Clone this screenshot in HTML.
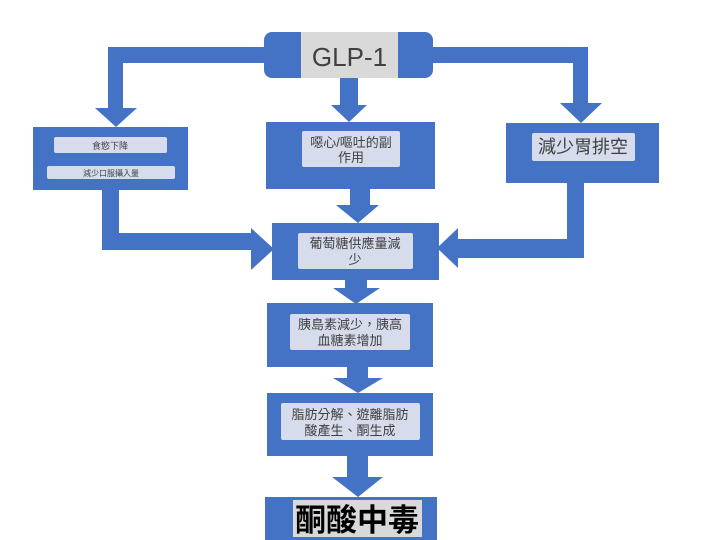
<!DOCTYPE html>
<html><head><meta charset="utf-8"><style>
html,body{margin:0;padding:0;background:#fff;}
svg{display:block;}
text{font-family:"Liberation Sans","Noto Sans CJK TC",sans-serif;fill:#404040;}
</style></head><body>
<svg width="720" height="540" viewBox="0 0 720 540" xmlns="http://www.w3.org/2000/svg">
<g fill="#4472C4">
<!-- GLP-1 box -->
<rect x="264" y="32" width="169" height="46" rx="8"/>
<!-- left connector -->
<rect x="108" y="47" width="160" height="16"/>
<rect x="108" y="47" width="15" height="63"/>
<polygon points="95,108 137,108 116,127"/>
<!-- right connector -->
<rect x="430" y="47" width="158" height="16"/>
<rect x="573" y="47" width="15" height="58"/>
<polygon points="560,103 602,103 581,123"/>
<!-- middle connector -->
<rect x="340" y="78" width="18" height="29"/>
<polygon points="331,105 367,105 349,122"/>
<!-- boxes -->
<rect x="33" y="127" width="155" height="63"/>
<rect x="266" y="122" width="169" height="67"/>
<rect x="506" y="123" width="153" height="60"/>
<!-- middle to glucose -->
<rect x="350" y="189" width="20" height="18"/>
<polygon points="336,205 379,205 358,223"/>
<!-- left to glucose -->
<rect x="102" y="190" width="17" height="60"/>
<rect x="102" y="233" width="152" height="17"/>
<polygon points="251,228 274,249 251,270"/>
<!-- right to glucose -->
<rect x="567" y="183" width="17" height="75"/>
<rect x="455" y="239" width="129" height="19"/>
<polygon points="458,228 437,248 458,268"/>
<!-- glucose box -->
<rect x="272" y="223" width="167" height="57"/>
<!-- arrow -->
<rect x="345" y="280" width="22" height="12"/>
<polygon points="333,288 380,288 356,304"/>
<rect x="267" y="303" width="166" height="64"/>
<rect x="347" y="367" width="21" height="13"/>
<polygon points="333,378 383,378 358,393"/>
<rect x="267" y="393" width="166" height="63"/>
<rect x="347" y="456" width="21" height="22"/>
<polygon points="332,477 383,477 358,497"/>
<rect x="265" y="497" width="172" height="43"/>
</g>
<!-- inner boxes -->
<rect x="301" y="32" width="97" height="46" fill="#d9d9d9"/>
<text x="349.5" y="66" font-size="26" text-anchor="middle">GLP-1</text>
<rect x="54" y="137" width="113" height="16" rx="2" fill="#d6dcec"/>
<text x="110" y="149" font-size="9" text-anchor="middle">食慾下降</text>
<rect x="47" y="166" width="128" height="13" rx="2" fill="#d6dcec"/>
<text x="111" y="176" font-size="8" text-anchor="middle">減少口服攝入量</text>
<rect x="302" y="131" width="98" height="36" rx="2" fill="#d6dcec"/>
<text x="351" y="147" font-size="13" text-anchor="middle">噁心/嘔吐的副</text>
<text x="351" y="162" font-size="13" text-anchor="middle">作用</text>
<rect x="532" y="133" width="103" height="28" rx="2" fill="#d6dcec"/>
<text x="583" y="153" font-size="18" text-anchor="middle">減少胃排空</text>
<rect x="298" y="233" width="115" height="36" rx="2" fill="#d6dcec"/>
<text x="355" y="248" font-size="13" text-anchor="middle">葡萄糖供應量減</text>
<text x="355" y="264" font-size="13" text-anchor="middle">少</text>
<rect x="290" y="314" width="120" height="36" rx="2" fill="#d6dcec"/>
<text x="350" y="329" font-size="13" text-anchor="middle">胰島素減少，胰高</text>
<text x="350" y="345" font-size="13" text-anchor="middle">血糖素增加</text>
<rect x="281" y="403" width="139" height="37" rx="2" fill="#d6dcec"/>
<text x="350" y="419" font-size="13" text-anchor="middle">脂肪分解、遊離脂肪</text>
<text x="350" y="435" font-size="13" text-anchor="middle">酸產生、酮生成</text>
<rect x="293" y="500" width="129" height="37" fill="#d9d9d9"/>
<text x="357" y="531" font-size="31" font-weight="bold" text-anchor="middle" style="fill:#000">酮酸中毒</text>
</svg>
</body></html>
